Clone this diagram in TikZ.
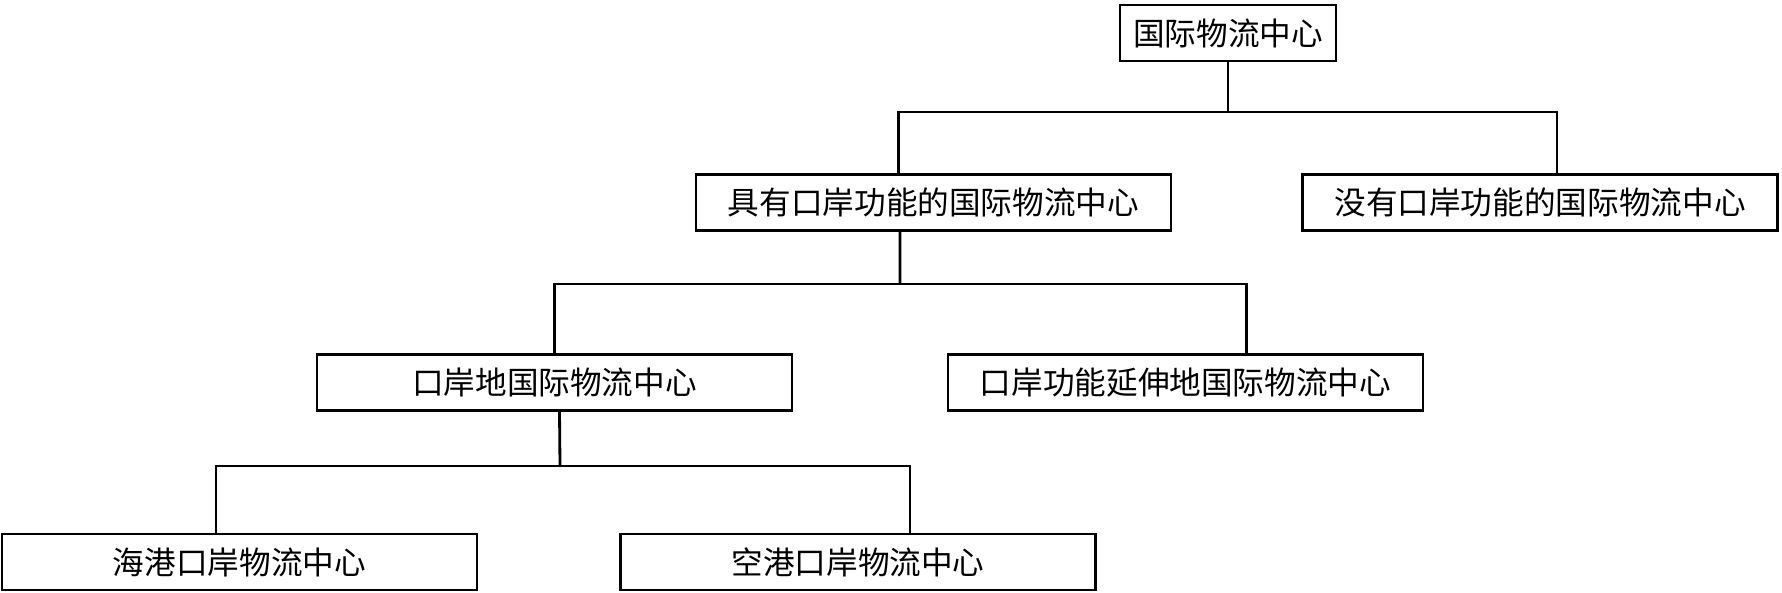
\documentclass[tikz,border=0pt]{standalone}
\usepackage{fontspec}
\newfontfamily\cjk{Noto Sans CJK SC}
\tikzset{
	box/.style={draw, line width=0.8pt, minimum height=5.6mm, inner sep=0pt,
		font=\cjk\fontsize{9pt}{9pt}\selectfont},
	wide/.style={box, minimum width=4.75cm},
	link/.style={line width=0.8pt}
}

\begin{document}
\begin{tikzpicture}
	\useasboundingbox (0,0) rectangle (17.82,-5.93);

	\node[box, minimum width=2.16cm] (top) at (12.28,-0.33) {国际物流中心};

	\node[wide] (hasport) at (9.335,-2.025) {具有口岸功能的国际物流中心};
	\node[wide] (noport) at (15.40,-2.025) {没有口岸功能的国际物流中心};

	\node[wide] (portsite) at (5.545,-3.825) {口岸地国际物流中心};
	\node[wide] (extend) at (11.855,-3.825) {口岸功能延伸地国际物流中心};

	\node[wide] (seaport) at (2.395,-5.62) {海港口岸物流中心};
	\node[wide] (airport) at (8.58,-5.62) {空港口岸物流中心};

	\coordinate (bus1) at (12.28,-1.12);
	\coordinate (bus2) at (9.00,-2.84);
	\coordinate (bus3) at (5.60,-4.66);

	\draw[link] (top) -- (bus1);
	\draw[link] ([xshift=-3.5mm]hasport.north) |- (bus1) -| ([xshift=1.7mm]noport.north);

	\draw[link] ([xshift=-3.35mm]hasport.south) -- (bus2);
	\draw[link] (portsite.north) |- (bus2) -| ([xshift=6.1mm]extend.north);

	\draw[link] ([xshift=0.5mm]portsite.south) -- (bus3);
	\draw[link] ([xshift=-2.35mm]seaport.north) |- (bus3) -| ([xshift=5.2mm]airport.north);
\end{tikzpicture}
\end{document}
